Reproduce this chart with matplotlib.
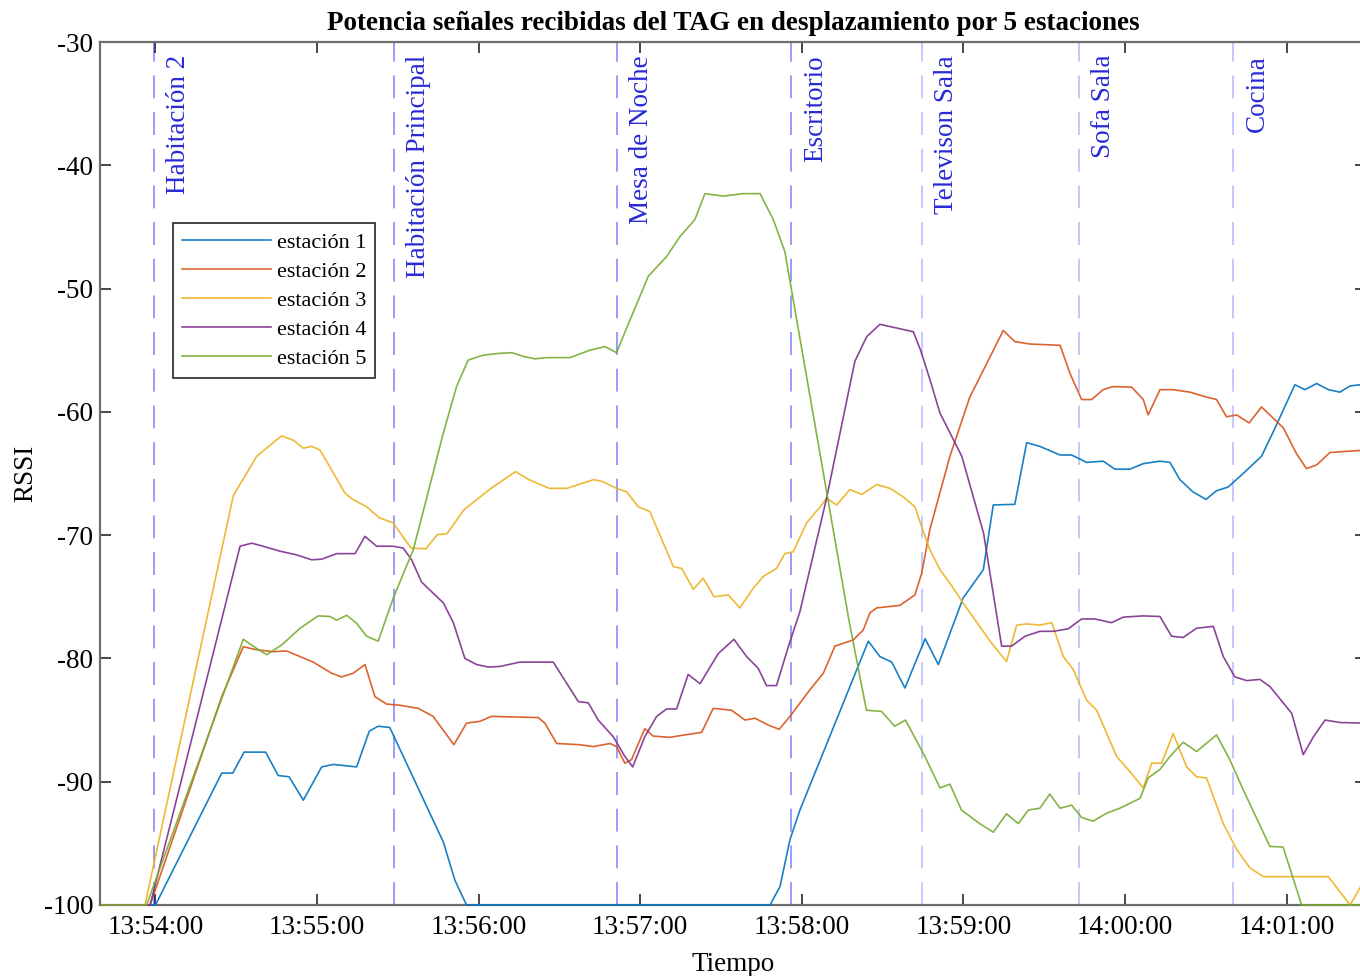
import numpy as np
import pandas as pd
import matplotlib
matplotlib.use('Agg')
import matplotlib.pyplot as plt
import matplotlib.dates as mdates
import matplotlib.transforms as mtransforms

plt.rcParams['font.family'] = ['Liberation Serif', 'DejaVu Serif']
plt.rcParams['axes.unicode_minus'] = False

# hora de referencia (segundos contados desde las 13:54:00)
t0 = pd.Timestamp('2021-06-10 13:54:00')

# estación 1
t1 = [-20, 0, 24.6, 28.7, 32.9, 40.9, 45.6, 49.6, 54.9, 61.7, 66.0, 74.7,
      79.4, 82.7, 87.0, 106.9, 111.2, 115.5, 228.2, 231.9, 235.6, 239.3,
      264.7, 269.0, 273.4, 278.3, 285.8, 290.7, 299.9, 307.4, 311.1, 319.1,
      323.5, 328.4, 335.9, 340.2, 345.8, 351.9, 356.3, 361.8, 366.8, 373.0,
      376.7, 380.4, 385.3, 390.1, 394.0, 398.3, 403.9, 410.7, 415.1, 423.1,
      426.8, 431.2, 435.5, 439.8, 443.6, 447.3, 449.5]
v1 = [-100, -100, -89.3, -89.3, -87.6, -87.6, -89.5, -89.6, -91.5, -88.8, -88.6, -88.8,
      -85.9, -85.5, -85.6, -94.9, -98.0, -100, -100, -98.5, -94.7, -92.3,
      -78.6, -79.85, -80.3, -82.4, -78.4, -80.5, -75.1, -72.8, -67.55, -67.5,
      -62.5, -62.8, -63.5, -63.5, -64.1, -64.0, -64.65, -64.65, -64.2, -64.0,
      -64.1, -65.5, -66.5, -67.1, -66.4, -66.1, -65.0, -63.6, -61.6, -57.8,
      -58.2, -57.7, -58.2, -58.4, -57.9, -57.8, -57.8]

# estación 2
t2 = [-20, -2.0, 24.6, 32.6, 37.6, 43.7, 48.7, 53.7, 58.6, 65.4,
      69.1, 73.4, 77.8, 81.5, 85.8, 90.8, 97.6, 103.1, 110.8, 115.5,
      120.5, 124.8, 142.1, 144.6, 149.0, 157.6, 162.6, 168.8, 171.2, 174.3,
      176.8, 181.7, 184.8, 191.0, 196.6, 202.8, 207.1, 213.9, 218.9, 222.6,
      227.5, 231.6, 235.6, 243.0, 248.0, 252.3, 259.1, 262.8, 265.3, 267.8,
      276.4, 282.0, 284.5, 287.6, 295.0, 302.4, 314.8, 319.1, 324.7, 335.9,
      339.6, 343.9, 347.6, 351.9, 355.6, 362.5, 366.8, 368.6, 373.0, 377.9,
      384.1, 390.3, 394.0, 397.7, 401.5, 406.1, 410.7, 418.8, 423.7, 427.4,
      431.2, 436.1, 442.3, 449.5]
v2 = [-100, -100, -83.1, -79.05, -79.3, -79.45, -79.4, -79.85, -80.3, -81.2,
      -81.5, -81.2, -80.5, -83.1, -83.7, -83.8, -84.05, -84.7, -87.0, -85.25,
      -85.1, -84.7, -84.8, -85.25, -86.9, -87.0, -87.15, -86.9, -87.15, -88.5,
      -88.2, -85.7, -86.3, -86.4, -86.2, -86.0, -84.05, -84.2, -85.0, -84.85,
      -85.4, -85.75, -84.7, -82.55, -81.2, -79.0, -78.5, -77.7, -76.3, -75.9,
      -75.7, -74.85, -73.1, -69.5, -63.6, -58.8, -53.4, -54.3, -54.5, -54.6,
      -56.9, -59.0, -59.0, -58.2, -57.95, -58.0, -59.0, -60.25, -58.2, -58.2,
      -58.4, -58.8, -59.0, -60.4, -60.25, -60.9, -59.6, -61.3, -63.4, -64.6,
      -64.3, -63.3, -63.2, -63.1]

# estación 3
t3 = [-20, -3.9, 28.9, 37.6, 46.8, 51.2, 54.9, 58.0, 61.1, 70.4,
      73.2, 78.4, 83.2, 88.2, 94.9, 100.4, 104.7, 108.2, 114.5, 124.6,
      133.7, 138.7, 146.1, 152.8, 162.7, 166.0, 171.2, 175.0, 179.3, 183.6,
      192.3, 195.4, 199.7, 203.4, 207.4, 212.7, 217.0, 222.0, 225.7, 230.6,
      233.7, 236.8, 241.8, 247.4, 249.2, 252.9, 257.9, 262.2, 267.8, 272.7,
      277.7, 282.0, 285.1, 287.6, 291.3, 295.0, 299.9, 309.9, 316.0, 319.8,
      323.5, 328.4, 332.8, 337.1, 340.8, 345.8, 349.5, 356.9, 361.9, 366.8,
      369.9, 373.6, 377.9, 382.9, 386.6, 390.3, 396.5, 401.5, 406.4, 411.4,
      435.5, 443.6, 447.3, 449.5]
v3 = [-100, -100, -66.8, -63.6, -61.95, -62.3, -62.95, -62.8, -63.1, -66.6,
      -67.1, -67.7, -68.6, -69.0, -71.05, -71.1, -69.95, -69.9, -67.95, -66.2,
      -64.85, -65.5, -66.2, -66.2, -65.5, -65.65, -66.2, -66.5, -67.7, -68.1,
      -72.55, -72.7, -74.4, -73.5, -75.0, -74.85, -75.9, -74.3, -73.35, -72.7,
      -71.5, -71.35, -69.0, -67.55, -67.0, -67.55, -66.3, -66.7, -65.9, -66.2,
      -66.9, -67.7, -69.7, -71.2, -72.8, -73.9, -75.5, -78.6, -80.25, -77.3,
      -77.2, -77.3, -77.1, -79.85, -80.9, -83.4, -84.2, -87.95, -89.2, -90.5,
      -88.5, -88.5, -86.1, -88.8, -89.6, -89.7, -93.4, -95.5, -97.0, -97.7,
      -97.7, -100, -98.6, -97.8]

# estación 4
t4 = [-20, -2.0, 31.4, 35.7, 40.0, 46.2, 52.4, 58.0, 61.7, 67.3,
      74.1, 77.8, 82.1, 88.3, 92.0, 95.1, 98.8, 102.6, 106.9, 110.6,
      114.9, 119.3, 123.6, 127.9, 135.3, 147.7, 157.0, 160.7, 164.4, 170.0,
      174.3, 177.2, 181.7, 186.1, 189.8, 193.5, 197.8, 202.2, 209.0, 214.8,
      219.5, 223.8, 226.9, 230.6, 235.0, 239.3, 249.2, 259.7, 264.1, 269.0,
      275.2, 281.4, 284.1, 287.6, 291.3, 299.4, 307.5, 314.2, 317.9, 322.9,
      328.4, 333.4, 338.9, 343.9, 348.8, 355.0, 359.4, 366.8, 373.0, 377.3,
      381.6, 386.6, 392.8, 396.5, 400.8, 405.2, 410.1, 413.9, 421.9, 426.2,
      430.0, 434.3, 439.9, 449.5]
v4 = [-100, -100, -70.9, -70.65, -70.9, -71.3, -71.6, -72.0, -71.95, -71.5,
      -71.5, -70.1, -70.9, -70.9, -71.05, -72.0, -73.8, -74.6, -75.5, -77.1,
      -80.0, -80.5, -80.7, -80.65, -80.3, -80.3, -83.5, -83.6, -85.0, -86.35,
      -87.95, -88.8, -86.35, -84.7, -84.1, -84.1, -81.3, -82.05, -79.6, -78.45,
      -79.85, -80.8, -82.2, -82.2, -79.05, -76.2, -67.0, -55.9, -53.9, -52.9,
      -53.2, -53.5, -55.0, -57.4, -60.1, -63.6, -69.85, -79.0, -79.0, -78.2,
      -77.8, -77.8, -77.6, -76.8, -76.8, -77.1, -76.65, -76.55, -76.6, -78.2,
      -78.3, -77.55, -77.4, -79.85, -81.5, -81.8, -81.7, -82.3, -84.45, -87.8,
      -86.35, -85.0, -85.2, -85.25]

# estación 5
t5 = [-20, -3.3, 32.6, 37.6, 41.3, 46.9, 53.7, 60.4, 64.8, 67.3,
      71.0, 74.7, 78.4, 82.7, 88.3, 95.7, 100.1, 106.9, 111.8, 116.1,
      121.7, 127.9, 132.3, 136.6, 140.9, 145.3, 153.9, 161.3, 166.9, 171.2,
      176.2, 183.0, 189.8, 194.7, 200.3, 204.0, 210.8, 218.2, 224.5, 229.4,
      233.7, 257.5, 264.0, 269.6, 274.5, 278.5, 285.7, 291.3, 295.0, 299.3,
      306.1, 311.1, 316.0, 320.4, 324.1, 328.4, 332.1, 335.9, 340.2, 343.9,
      348.2, 353.2, 358.1, 365.6, 368.6, 373.0, 376.7, 381.6, 386.6, 394.0,
      398.9, 403.9, 413.8, 418.7, 425.6, 449.5]
v5 = [-100, -100, -78.45, -79.2, -79.7, -78.9, -77.55, -76.55, -76.6, -76.9,
      -76.5, -77.15, -78.2, -78.6, -75.1, -71.2, -67.5, -61.7, -57.95, -55.8,
      -55.4, -55.25, -55.2, -55.5, -55.7, -55.6, -55.6, -55.0, -54.7, -55.2,
      -52.55, -49.0, -47.4, -45.8, -44.4, -42.3, -42.5, -42.3, -42.3, -44.4,
      -47.0, -76.9, -84.2, -84.3, -85.5, -85.0, -87.95, -90.5, -90.2, -92.3,
      -93.4, -94.1, -92.6, -93.4, -92.3, -92.15, -91.0, -92.15, -91.9, -92.9,
      -93.2, -92.55, -92.15, -91.35, -89.7, -89.0, -87.95, -86.8, -87.55, -86.2,
      -88.2, -90.65, -95.25, -95.3, -100, -100]

# paso por cada sitio
t_sitios = [-0.45, 88.7, 171.2, 236.0, 284.7, 342.9, 400.0]
sitios = ['Habitación 2', 'Habitación Principal', 'Mesa de Noche', 'Escritorio',
          'Televison Sala', 'Sofa Sala', 'Cocina']

nombres = ['estación 1', 'estación 2', 'estación 3', 'estación 4', 'estación 5']
colores = ['#0072BD', '#D95319', '#EDB120', '#7E2F8E', '#77AC30']


def hora(seg):
    return t0 + pd.to_timedelta(np.array(seg, dtype=float), unit='s')


fig = plt.figure(figsize=(13.6, 9.76), dpi=100)
ax = fig.add_axes([100 / 1360, 71 / 976, 1266 / 1360, 863 / 976])

series = [(t1, v1), (t2, v2), (t3, v3), (t4, v4), (t5, v5)]
for (tt, vv), nom, col in zip(series, nombres, colores):
    ax.plot(hora(tt), vv, color=col, lw=1.2, alpha=0.9, label=nom, clip_on=False, zorder=3)

# lineas verticales de cada sitio
off = mtransforms.ScaledTranslation(12 / 100, 0, fig.dpi_scale_trans)
trans = mtransforms.blended_transform_factory(ax.transData, ax.transAxes)
for i, (ts, nom) in enumerate(zip(t_sitios, sitios)):
    x = mdates.date2num(hora([ts])[0])
    alfa = 0.5 if i < 4 else 0.28
    ax.axvline(x, color='blue', alpha=alfa, lw=1.1, dashes=(15, 9), zorder=2)
    ax.text(x, 0.985, nom, transform=trans + off, rotation=90, ha='left', va='top',
            color='#2a2ad6', fontsize=19.5)

ax.set_xlim(hora([-20.6])[0], hora([449.5])[0])
ax.set_ylim(-100, -30)
ax.set_yticks(np.arange(-100, -29, 10))
ax.xaxis.set_major_locator(mdates.MinuteLocator())
ax.xaxis.set_major_formatter(mdates.DateFormatter('%H:%M:%S'))

ax.tick_params(direction='in', top=True, right=True, length=8, width=1.2,
               labelsize=19.5, color='#262626')
ax.tick_params(axis='x', pad=7)
ax.tick_params(axis='y', pad=5)
for s in ax.spines.values():
    s.set_color('#6e6e6e')
    s.set_linewidth(1.6)

ax.set_xlabel('Tiempo', fontsize=19.5, labelpad=9)
ax.set_ylabel('RSSI', fontsize=19.5, labelpad=4)
ax.set_title('Potencia señales recibidas del TAG en desplazamiento por 5 estaciones',
             fontsize=19.5, fontweight='bold', pad=9)

leg = ax.legend(loc='upper left', bbox_to_anchor=(0.058, 0.790), borderaxespad=0,
                fontsize=16, handlelength=4.0, handletextpad=0.25, labelspacing=0.38,
                fancybox=False, framealpha=1, edgecolor='#262626', borderpad=0.4)
leg.get_frame().set_linewidth(1.2)

fig.savefig('out.png', dpi=100)
